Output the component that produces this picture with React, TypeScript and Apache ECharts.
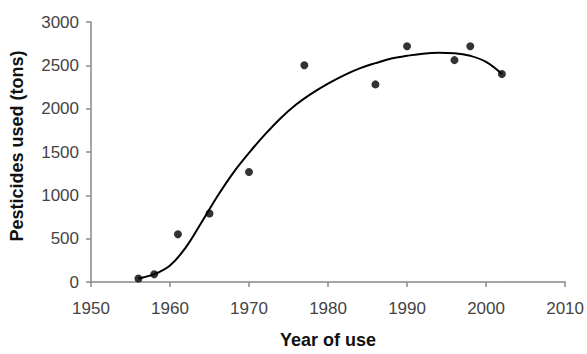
import React, { useEffect, useRef } from "react";
import * as echarts from "echarts";

const observedYears = [1956, 1958, 1961, 1965, 1970, 1977, 1986, 1990, 1996, 1998, 2002];
const observedTons = [40, 90, 550, 790, 1270, 2500, 2280, 2720, 2560, 2720, 2400];

const fitYears = [1956, 1958, 1960, 1962, 1964, 1966, 1968, 1970, 1972, 1974, 1976, 1978, 1980, 1982, 1984, 1986, 1988, 1990, 1992, 1994, 1996, 1998, 2000, 2002];
const fitTons = [40, 90, 190, 400, 690, 990, 1260, 1490, 1700, 1890, 2050, 2180, 2290, 2385, 2465, 2525, 2578, 2610, 2635, 2645, 2640, 2610, 2540, 2400];

const xTicks = { min: 1950, max: 2010, interval: 10 };
const yTicks = { min: 0, max: 3000, interval: 500 };

export default function App() {
  const ref = useRef<HTMLDivElement>(null);
  useEffect(() => {
    if (!ref.current) return;
    const chart = echarts.init(ref.current, undefined, { renderer: "svg" });
    const font = "Liberation Sans, Arial, sans-serif";
    const labelStyle = { color: "#444", fontFamily: font, fontSize: 17 };
    const plain = (v: number) => String(v);
    chart.setOption({
      animation: false,
      backgroundColor: "#fff",
      grid: { left: 91, right: 21, top: 22, bottom: 69, containLabel: false },
      xAxis: {
        type: "value",
        min: xTicks.min,
        max: xTicks.max,
        interval: xTicks.interval,
        name: "Year of use",
        nameLocation: "middle",
        nameGap: 49,
        nameTextStyle: { color: "#111", fontWeight: "bold", fontSize: 18, fontFamily: font },
        axisLine: { show: true, lineStyle: { color: "#888", width: 1.5 } },
        axisTick: { show: true, length: 5, lineStyle: { color: "#888", width: 1.5 } },
        axisLabel: { ...labelStyle, margin: 18, formatter: plain },
        splitLine: { show: false },
      },
      yAxis: {
        type: "value",
        min: yTicks.min,
        max: yTicks.max,
        interval: yTicks.interval,
        name: "Pesticides used (tons)",
        nameLocation: "middle",
        nameGap: 65,
        nameRotate: 90,
        nameTextStyle: { color: "#111", fontWeight: "bold", fontSize: 18, fontFamily: font, padding: [0, 0, 0, 12] },
        axisLine: { show: true, lineStyle: { color: "#888", width: 1.5 } },
        axisTick: { show: true, length: 5, lineStyle: { color: "#888", width: 1.5 } },
        axisLabel: { ...labelStyle, margin: 12, formatter: plain },
        splitLine: { show: false },
      },
      series: [
        {
          type: "line",
          data: fitYears.map((y, i) => [y, fitTons[i]]),
          smooth: 0.4,
          showSymbol: false,
          lineStyle: { color: "#000", width: 2 },
          z: 2,
        },
        {
          type: "scatter",
          data: observedYears.map((y, i) => [y, observedTons[i]]),
          symbol: "circle",
          symbolSize: 8,
          itemStyle: { color: "#000" },
          z: 3,
        },
      ],
    });
    return () => chart.dispose();
  }, []);
  return <div ref={ref} style={{ width: 587, height: 354, position: "absolute", left: 0, top: 0 }} />;
}
